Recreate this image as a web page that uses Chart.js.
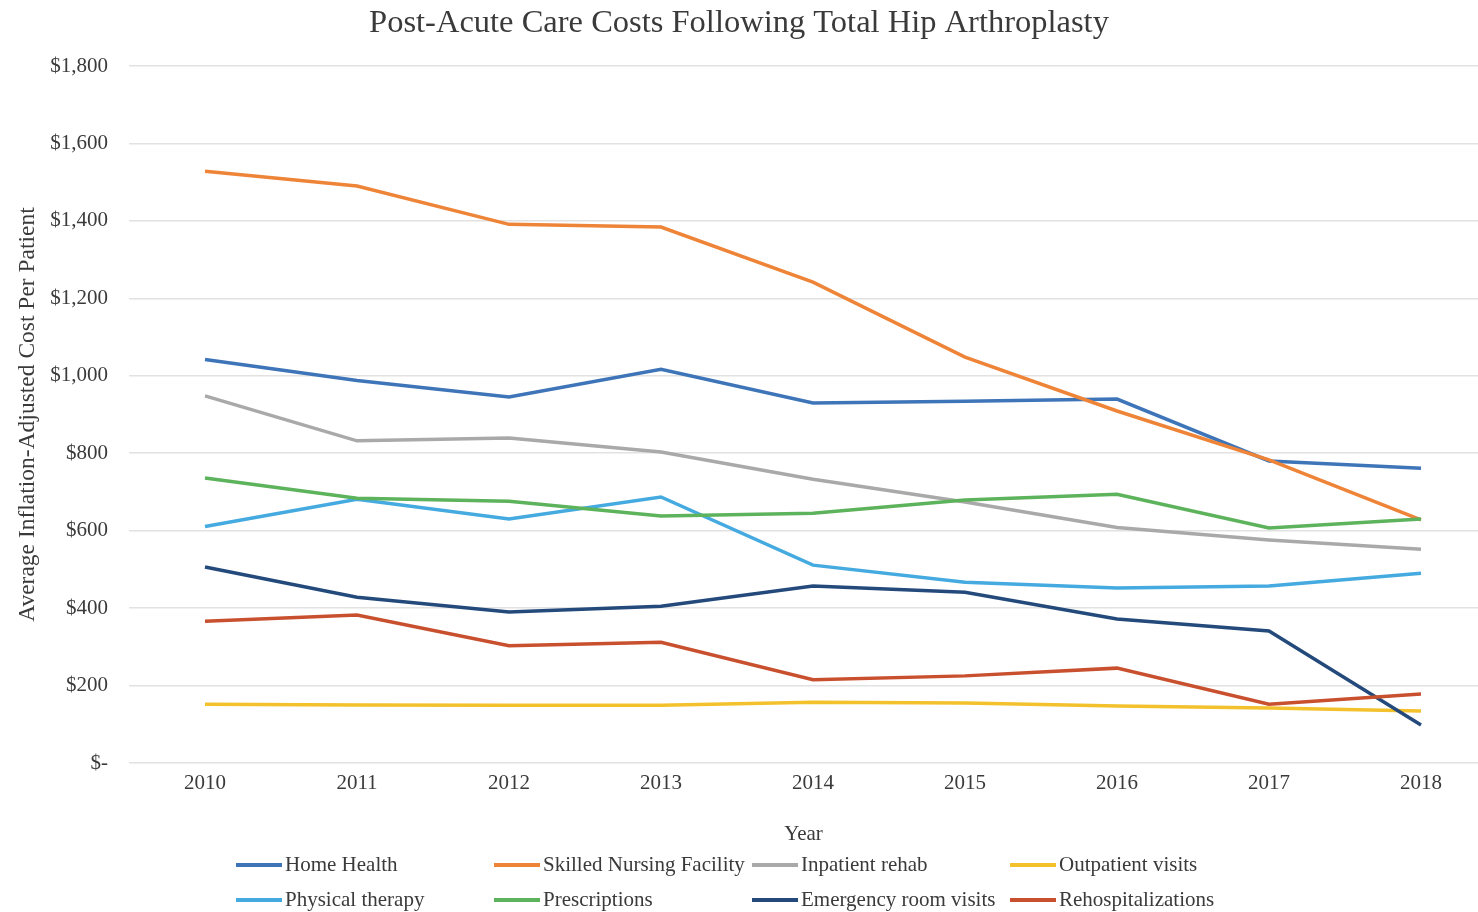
<!DOCTYPE html>
<html>
<head>
<meta charset="utf-8">
<title>Post-Acute Care Costs Following Total Hip Arthroplasty</title>
<script src="https://cdn.jsdelivr.net/npm/chart.js@4.4.1/dist/chart.umd.min.js"></script>
<style>
  html, body { margin: 0; padding: 0; background: #fff; overflow: hidden; }
  #wrap { width: 1478px; height: 912px; }
</style>
</head>
<body>
<div id="wrap"><canvas id="costChart" width="1478" height="912"></canvas></div>
<script>
// values (USD, inflation-adjusted, per patient)
const years = [2010, 2011, 2012, 2013, 2014, 2015, 2016, 2017, 2018];

const homeHealth      = [1042, 988, 945, 1017, 930, 934, 940, 780, 761];
const skilledNursing  = [1528, 1490, 1391, 1384, 1242, 1048, 909, 783, 628];
const inpatientRehab  = [948, 832, 839, 803, 733, 674, 608, 576, 552];
const outpatient      = [152, 150, 149, 149, 157, 155, 147, 142, 134];
const physicalTherapy = [611, 681, 630, 687, 511, 467, 452, 457, 490];
const prescriptions   = [736, 684, 676, 638, 645, 679, 694, 607, 630];
const emergencyRoom   = [506, 428, 390, 405, 457, 441, 372, 341, 98];
const rehosp          = [366, 382, 303, 312, 215, 225, 245, 152, 178];

const seriesNames = [
  'Home Health', 'Skilled Nursing Facility', 'Inpatient rehab', 'Outpatient visits',
  'Physical therapy', 'Prescriptions', 'Emergency room visits', 'Rehospitalizations'
];
const seriesValues = [homeHealth, skilledNursing, inpatientRehab, outpatient,
  physicalTherapy, prescriptions, emergencyRoom, rehosp];
const seriesColors = ['#3E74B8', '#EE8437', '#A9A9A9', '#F3C12C',
  '#45AADF', '#5DB35B', '#244A7C', '#C9502E'];

const yTicks = [0, 200, 400, 600, 800, 1000, 1200, 1400, 1600, 1800];
const yTickLabels = ['$-', '$200', '$400', '$600', '$800', '$1,000', '$1,200', '$1,400', '$1,600', '$1,800'];

const FONT = "'Liberation Serif', 'Times New Roman', serif";
const TEXT = '#3a3a3a';

// legend in a 4 column grid under the axis title
const gridLegend = {
  id: 'gridLegend',
  afterDraw(chart) {
    const ctx = chart.ctx;
    ctx.save();
    ctx.font = '21px ' + FONT;
    ctx.textBaseline = 'middle';
    ctx.textAlign = 'left';
    chart.data.datasets.forEach((ds, i) => {
      const col = i % 4, row = Math.floor(i / 4);
      const x = 236 + col * 258;
      const y = 865 + row * 35;
      ctx.strokeStyle = ds.borderColor;
      ctx.lineWidth = 4;
      ctx.beginPath();
      ctx.moveTo(x, y);
      ctx.lineTo(x + 46, y);
      ctx.stroke();
      ctx.fillStyle = TEXT;
      ctx.fillText(ds.label, x + 49, y);
    });
    ctx.restore();
  }
};

const datasets = seriesNames.map((name, i) => ({
  label: name,
  data: seriesValues[i].map((v, j) => ({ x: years[j], y: v })),
  borderColor: seriesColors[i],
  backgroundColor: seriesColors[i],
  borderWidth: 3.5,
  pointRadius: 0,
  tension: 0,
  order: seriesNames.length - i
}));

new Chart(document.getElementById('costChart').getContext('2d'), {
  type: 'line',
  data: { datasets: datasets },
  plugins: [gridLegend],
  options: {
    responsive: false,
    animation: false,
    layout: { padding: { left: 0, right: 0, top: 0, bottom: 59 } },
    plugins: {
      legend: { display: false },
      tooltip: { enabled: false },
      title: {
        display: true,
        text: 'Post-Acute Care Costs Following Total Hip Arthroplasty',
        color: TEXT,
        font: { family: FONT, size: 32.5, weight: 'normal' },
        padding: { top: 4, bottom: 23 }
      }
    },
    scales: {
      x: {
        type: 'linear',
        min: 2009.5,
        max: 2018.375,
        afterBuildTicks: (scale) => { scale.ticks = years.map(v => ({ value: v })); },
        afterFit: (scale) => { scale.height = 90; },
        grid: { display: false, drawTicks: false },
        border: { display: false },
        ticks: {
          padding: 8,
          color: TEXT,
          font: { family: FONT, size: 21 },
          callback: (v) => String(v)
        },
        title: {
          display: true,
          text: 'Year',
          color: TEXT,
          font: { family: FONT, size: 21 },
          padding: { top: 0, bottom: 6 }
        }
      },
      y: {
        min: 0,
        max: 1800,
        afterBuildTicks: (scale) => { scale.ticks = yTicks.map(v => ({ value: v })); },
        afterFit: (scale) => { scale.width = 129; },
        grid: { color: '#e2e2e2', lineWidth: 1.5, drawTicks: false },
        border: { display: false },
        ticks: {
          padding: 21,
          color: TEXT,
          font: { family: FONT, size: 21 },
          callback: (v) => yTickLabels[yTicks.indexOf(v)]
        },
        title: {
          display: true,
          text: 'Average Inflation-Adjusted Cost Per Patient',
          color: TEXT,
          font: { family: FONT, size: 23.5 },
          padding: { top: 14, bottom: 0 }
        }
      }
    }
  }
});
</script>
</body>
</html>
